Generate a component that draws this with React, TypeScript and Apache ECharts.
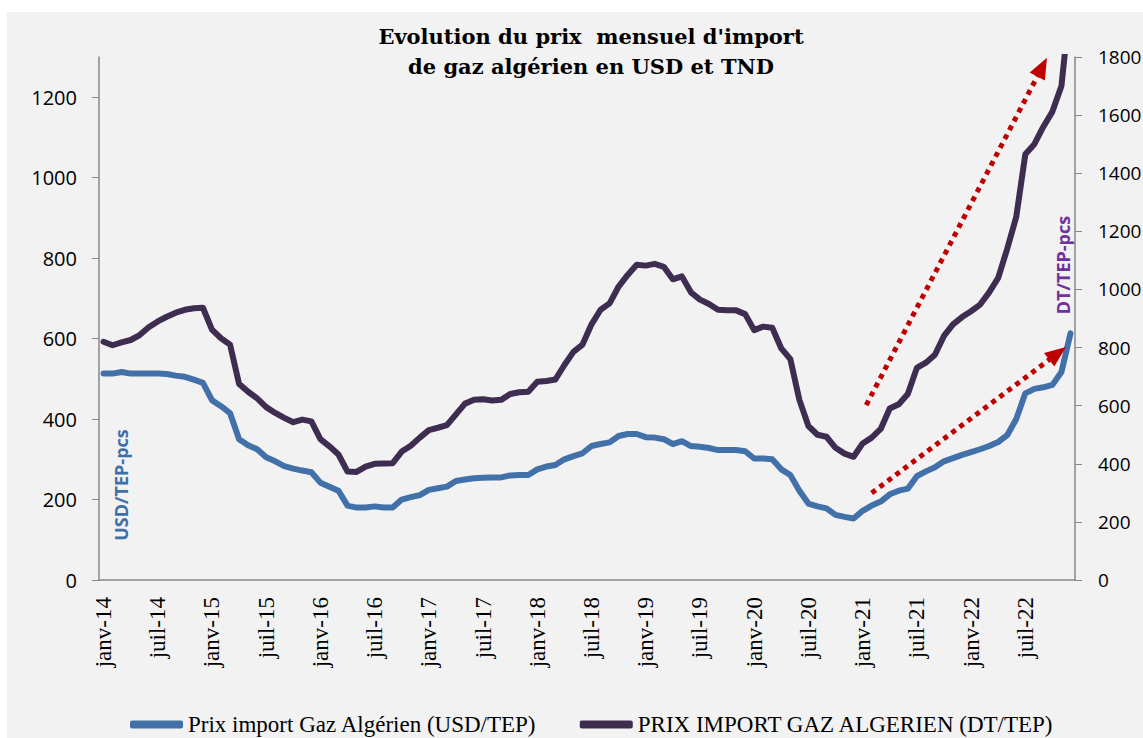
import React, { useEffect, useRef } from 'react';
import * as echarts from 'echarts';

const MONTHS = ['janv', 'févr', 'mars', 'avr', 'mai', 'juin', 'juil', 'août', 'sept', 'oct', 'nov', 'déc'];
const YEARS = ['14', '15', '16', '17', '18', '19', '20', '21', '22'];
const categories = YEARS.flatMap((y) => MONTHS.map((m) => `${m}-${y}`));

// Prix import Gaz Algérien (USD/TEP) - left axis
const usdPrice = [
  513, 513, 517, 513, 513, 513, 513, 512, 508, 505, 498, 490,
  447, 432, 415, 350, 335, 325, 305, 295, 283, 277, 272, 268,
  242, 232, 222, 185, 180, 180, 183, 180, 180, 200, 206, 211,
  224, 228, 232, 246, 250, 253, 254, 255, 255, 260, 261, 261,
  275, 282, 286, 300, 308, 315, 333, 338, 342, 358, 363, 363,
  355, 354, 350, 338, 345, 333, 331, 328, 323, 323, 323, 320,
  302, 302, 300, 275, 261, 222, 190, 183, 178, 162, 157, 153,
  172, 185, 195, 213, 222, 227, 258, 270, 280, 295, 303, 311,
  318, 325, 333, 343, 360, 400, 464, 475, 479, 485, 517, 613,
];

// PRIX IMPORT GAZ ALGERIEN (DT/TEP) - right axis
const tndPrice = [
  820, 808, 818, 826, 843, 870, 890, 906, 920, 930, 935, 937,
  862, 832, 810, 675, 648, 625, 595, 575, 558, 543, 552, 546,
  485, 460, 432, 373, 372, 390, 400, 401, 402, 442, 462, 490,
  516, 524, 533, 570, 607, 620, 622, 618, 620, 640, 646, 648,
  682, 685, 690, 740, 785, 810, 880, 930, 952, 1010, 1050, 1085,
  1082, 1088, 1078, 1035, 1045, 990, 965, 950, 930, 928, 928, 915,
  860, 872, 868, 797, 760, 620, 530, 500, 493, 455, 435, 424,
  470, 490, 520, 590, 605, 640, 730, 748, 775, 840, 880, 905,
  925, 948, 990, 1040, 1140, 1250, 1465, 1500, 1560, 1612, 1700, 2000,
];

const leftTicks = [0, 200, 400, 600, 800, 1000, 1200];
const rightTicks = [0, 200, 400, 600, 800, 1000, 1200, 1400, 1600, 1800];

// Arrow annotations: [categoryIndex, value] start -> end, on given y axis
const arrowTnd = { axis: 1, from: [84.4, 602], to: [104.4, 1797] };
const arrowUsd = { axis: 0, from: [85.0, 216], to: [106.5, 579] };

const BLUE = '#4271aa';
const PURPLE = '#3f2c51';
const AXIS = '#878787';
const SERIF = '"Liberation Serif", serif';
const TITLE_SERIF = '"DejaVu Serif", serif';
const SANS = '"Open Sans", sans-serif';

export default function App() {
  const ref = useRef<HTMLDivElement>(null);
  useEffect(() => {
    const chart = echarts.init(ref.current!, undefined, { renderer: 'svg' });
    chart.setOption({
      animation: false,
      backgroundColor: '#f2f2f2',
      title: {
        text: "Evolution du prix  mensuel d'import\nde gaz algérien en USD et TND",
        left: 586,
        top: 16,
        textAlign: 'center',
        textStyle: { fontFamily: TITLE_SERIF, fontWeight: 'bold', fontSize: 21, lineHeight: 30, color: '#000' },
      },
      grid: { left: 99, right: 68, top: 57, bottom: 158, containLabel: false, outerBoundsMode: 'none' },
      legend: {
        left: 125,
        top: 708,
        icon: 'roundRect',
        itemWidth: 53,
        itemHeight: 8,
        itemGap: 43,
        textStyle: { fontFamily: SERIF, fontSize: 23, color: '#000' },
        data: ['Prix import Gaz Algérien (USD/TEP)', 'PRIX IMPORT GAZ ALGERIEN (DT/TEP)'],
      },
      xAxis: {
        type: 'category',
        data: categories,
        boundaryGap: true,
        axisLine: { lineStyle: { color: AXIS, width: 1.5 } },
        axisTick: { interval: 0, length: 5, lineStyle: { color: AXIS } },
        axisLabel: {
          interval: 5,
          rotate: 90,
          margin: 17,
          fontFamily: SERIF,
          fontSize: 23,
          color: '#000',
        },
      },
      yAxis: [
        {
          type: 'value',
          min: 0,
          max: 1300,
          interval: 200,
          position: 'left',
          splitLine: { show: false },
          axisLine: { show: true, lineStyle: { color: AXIS, width: 1.5 } },
          axisTick: { show: true, length: 7, customValues: leftTicks, lineStyle: { color: AXIS } },
          axisLabel: {
            customValues: leftTicks,
            formatter: (v: number) => String(v),
            margin: 22,
            fontFamily: SANS,
            fontSize: 20,
            color: '#000',
          },
        },
        {
          type: 'value',
          min: 0,
          max: 1800,
          interval: 200,
          position: 'right',
          splitLine: { show: false },
          axisLine: { show: true, lineStyle: { color: AXIS, width: 1.5 } },
          axisTick: { show: true, length: 7, customValues: rightTicks, lineStyle: { color: AXIS } },
          axisLabel: {
            customValues: rightTicks,
            formatter: (v: number) => String(v),
            margin: 23,
            fontFamily: SANS,
            fontSize: 19,
            color: '#000',
          },
        },
      ],
      series: [
        {
          name: 'Prix import Gaz Algérien (USD/TEP)',
          type: 'line',
          yAxisIndex: 0,
          data: usdPrice,
          showSymbol: false,
          color: BLUE,
          lineStyle: { width: 6, color: BLUE, cap: 'round', join: 'round' },
        },
        {
          name: 'PRIX IMPORT GAZ ALGERIEN (DT/TEP)',
          type: 'line',
          yAxisIndex: 1,
          data: tndPrice,
          showSymbol: false,
          color: PURPLE,
          clip: true,
          lineStyle: { width: 6, color: PURPLE, cap: 'round', join: 'round' },
        },
      ],
    });

    const x0 = chart.convertToPixel({ xAxisIndex: 0 }, 0) as number;
    const x1 = chart.convertToPixel({ xAxisIndex: 0 }, 1) as number;
    const step = x1 - x0;
    const px = (pt: number[], axis: number) => [
      x0 + pt[0] * step,
      chart.convertToPixel({ yAxisIndex: axis }, pt[1]) as number,
    ];
    const makeArrow = (a: { axis: number; from: number[]; to: number[] }) => {
      const [ax, ay] = px(a.from, a.axis);
      const [bx, by] = px(a.to, a.axis);
      const dx = bx - ax;
      const dy = by - ay;
      const len = Math.hypot(dx, dy);
      const ux = dx / len;
      const uy = dy / len;
      const hl = 21;
      const hw = 8.5;
      const cx = bx - ux * hl;
      const cy = by - uy * hl;
      return [
        {
          type: 'line',
          z: 100,
          shape: { x1: ax, y1: ay, x2: cx + ux * 2, y2: cy + uy * 2 },
          style: { stroke: '#c00000', lineWidth: 5, lineDash: [5, 5] },
        },
        {
          type: 'polygon',
          z: 100,
          shape: { points: [[bx, by], [cx - uy * hw, cy + ux * hw], [cx + uy * hw, cy - ux * hw]] },
          style: { fill: '#c00000' },
        },
      ];
    };

    chart.setOption({
      graphic: [
        { type: 'rect', z: 100, shape: { x: 0, y: 0, width: 1143, height: 12 }, style: { fill: '#ffffff' } },
        { type: 'rect', z: 100, shape: { x: 0, y: 0, width: 7, height: 738 }, style: { fill: '#ffffff' } },
        ...makeArrow(arrowTnd),
        ...makeArrow(arrowUsd),
        {
          type: 'text',
          z: 100,
          x: 121,
          y: 485,
          rotation: Math.PI / 2,
          style: {
            text: 'USD/TEP-pcs',
            fill: '#3d6fa9',
            font: `bold 18px ${SANS}`,
            textAlign: 'center',
            textVerticalAlign: 'middle',
            align: 'center',
            verticalAlign: 'middle',
          },
        },
        {
          type: 'text',
          z: 100,
          x: 1063,
          y: 265,
          rotation: Math.PI / 2,
          style: {
            text: 'DT/TEP-pcs',
            fill: '#7030a0',
            font: `bold 18px ${SANS}`,
            textAlign: 'center',
            textVerticalAlign: 'middle',
            align: 'center',
            verticalAlign: 'middle',
          },
        },
      ],
    });
    return () => chart.dispose();
  }, []);
  return <div ref={ref} style={{ position: 'fixed', left: 0, top: 0, width: 1143, height: 738 }} />;
}
